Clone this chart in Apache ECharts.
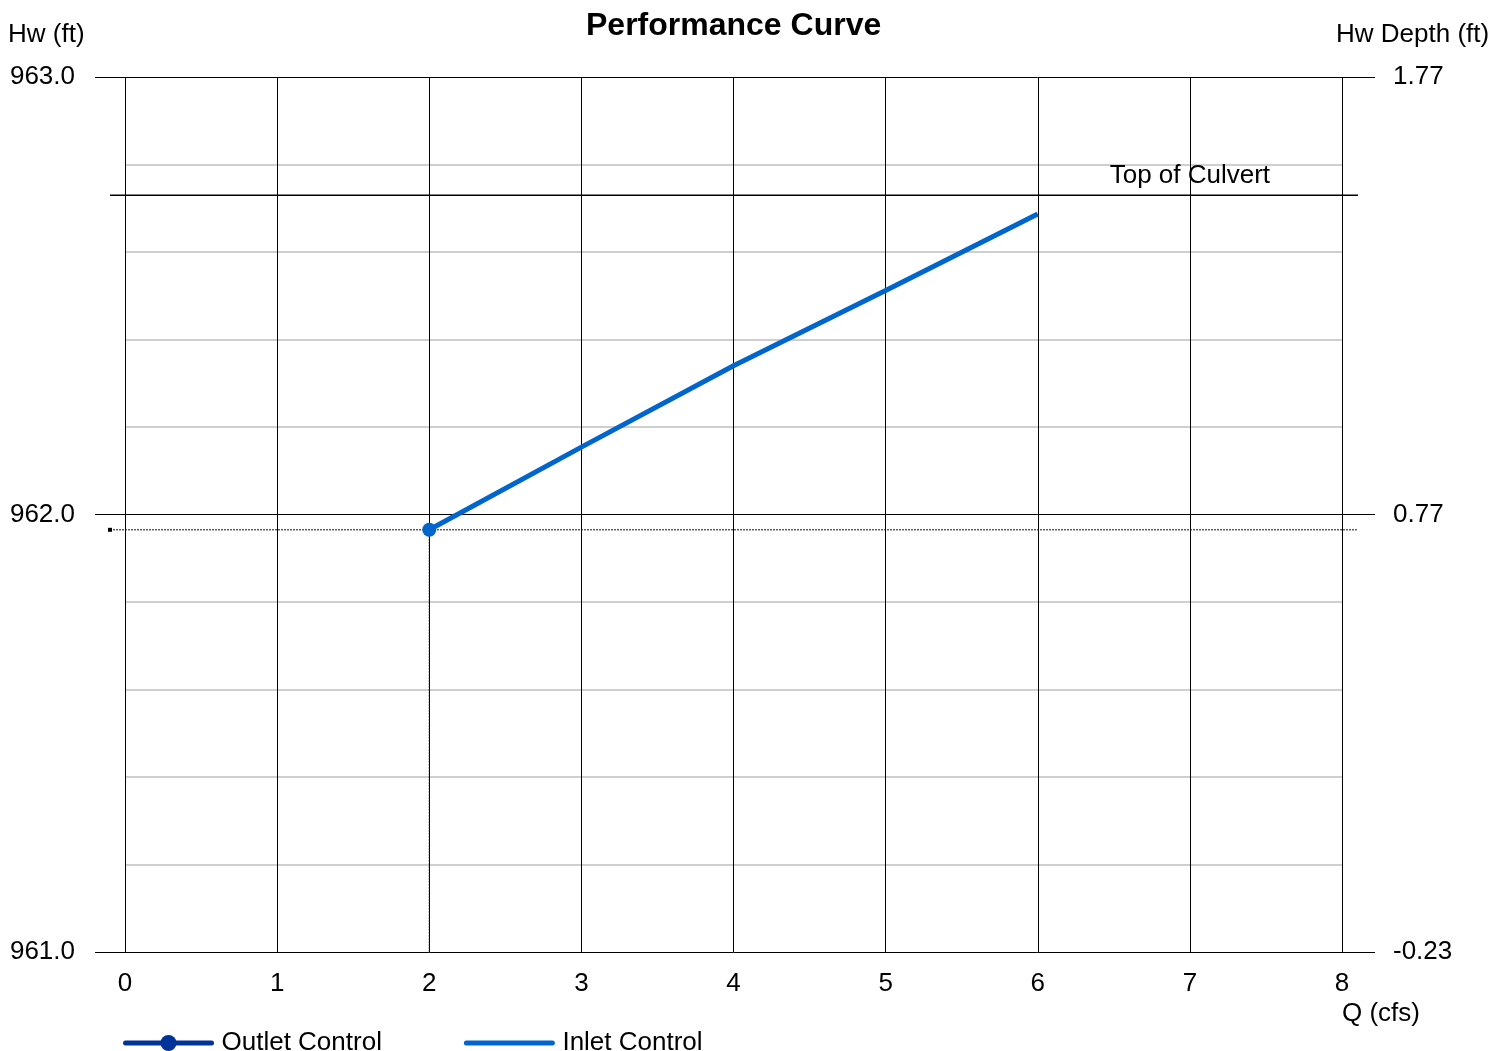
<!DOCTYPE html>
<html>
<head>
<meta charset="utf-8">
<script src="https://cdn.jsdelivr.net/npm/echarts@6/dist/echarts.min.js"></script>
<style>
  html, body { margin: 0; padding: 0; background: #ffffff; }
  #chart { width: 1493px; height: 1051px; }
</style>
</head>
<body>
<div id="chart"></div>
<script>
// Culvert performance curve: headwater elevation versus discharge
const qTicks = [0, 1, 2, 3, 4, 5, 6, 7, 8];
const inletQ = [2, 3, 4, 5, 6];
const inletHw = [961.965, 962.154, 962.34, 962.512, 962.687];
const outletQ = [2];
const outletHw = [961.965];
const designQ = 2;
const designHw = 961.965;
const topOfCulvert = 962.73;
const inletInvert = 961.23;
const hwMin = 961.0;
const hwMax = 963.0;

const FONT = 'Arial, "Liberation Sans", sans-serif';
const INK = '#000000';
const INLET_BLUE = '#0066cc';
const OUTLET_BLUE = '#003399';

const chart = echarts.init(document.getElementById('chart'), null, { renderer: 'canvas' });

chart.setOption({
  animation: false,
  backgroundColor: '#ffffff',
  textStyle: { fontFamily: FONT },
  title: [
    { text: 'Performance Curve', left: 586, top: 10, padding: 0,
      textStyle: { fontFamily: FONT, fontSize: 32, fontWeight: 'bold', color: INK } },
    { text: 'Hw (ft)', left: 8, top: 22, padding: 0,
      textStyle: { fontFamily: FONT, fontSize: 26, fontWeight: 'normal', color: INK } },
    { text: 'Hw Depth (ft)', left: 1336, top: 22, padding: 0,
      textStyle: { fontFamily: FONT, fontSize: 26, fontWeight: 'normal', color: INK } },
    { text: 'Q (cfs)', left: 1342, top: 1001, padding: 0,
      textStyle: { fontFamily: FONT, fontSize: 26, fontWeight: 'normal', color: INK } }
  ],
  legend: {
    left: 123, top: 1030, padding: 0,
    itemWidth: 86, itemHeight: 20, itemGap: 82,
    data: [
      { name: 'Outlet Control' },
      { name: 'Inlet Control', itemStyle: { opacity: 0 } }
    ],
    lineStyle: { width: 5, cap: 'round' },
    textStyle: { fontFamily: FONT, fontSize: 26, color: INK, padding: [0, 0, 0, 5] }
  },
  grid: [
    { left: 125, right: 151, top: 77, bottom: 99 },
    { left: 110, right: 135, top: 77, bottom: 99 }
  ],
  xAxis: [
    {
      type: 'value', gridIndex: 0, min: 0, max: 8, interval: 1,
      axisLine: { show: false }, axisTick: { show: false },
      axisLabel: { fontFamily: FONT, fontSize: 26, color: INK, margin: 19,
        formatter: v => qTicks.includes(v) ? String(v) : '' },
      splitLine: { show: true, lineStyle: { color: INK, width: 1 } }
    },
    { type: 'value', gridIndex: 1, min: 0, max: 1, show: false }
  ],
  yAxis: [
    {
      type: 'value', gridIndex: 0, position: 'left', min: hwMin, max: hwMax, interval: 1,
      axisLine: { show: false },
      axisTick: { show: true, length: 30, lineStyle: { color: INK, width: 1 } },
      axisLabel: { fontFamily: FONT, fontSize: 26, color: INK, margin: 50,
        formatter: v => v.toFixed(1) },
      splitLine: { show: true, lineStyle: { color: INK, width: 1 } },
      minorTick: { show: false, splitNumber: 5 },
      minorSplitLine: { show: true, lineStyle: { color: '#cfcfcf', width: 2 } }
    },
    {
      type: 'value', gridIndex: 0, position: 'right', min: hwMin, max: hwMax, interval: 1,
      axisLine: { show: false },
      axisTick: { show: true, length: 33, lineStyle: { color: INK, width: 1 } },
      axisLabel: { fontFamily: FONT, fontSize: 26, color: INK, margin: 51,
        formatter: v => (v - inletInvert).toFixed(2) },
      splitLine: { show: false }
    },
    { type: 'value', gridIndex: 1, min: hwMin, max: hwMax, show: false }
  ],
  series: [
    {
      name: 'Top of Culvert', type: 'line', xAxisIndex: 1, yAxisIndex: 2,
      data: [[0, topOfCulvert], [1, topOfCulvert]],
      symbol: 'none', silent: true,
      lineStyle: { color: INK, width: 1.5 }, z: 3
    },
    {
      name: 'Design Point', type: 'line', xAxisIndex: 1, yAxisIndex: 2,
      data: [
        { value: [0, designHw], symbol: 'rect', symbolSize: 4 },
        { value: [1, designHw], symbol: 'none' }
      ],
      silent: true, itemStyle: { color: INK },
      lineStyle: { color: '#111111', width: 1, type: [2, 1] }, z: 3
    },
    {
      name: 'Design Drop', type: 'line', xAxisIndex: 0, yAxisIndex: 0,
      data: [[designQ, designHw], [designQ, hwMin]],
      symbol: 'none', silent: true,
      lineStyle: { color: '#111111', width: 1, type: [2, 1] }, z: 3
    },
    {
      name: 'Culvert Label', type: 'scatter', xAxisIndex: 0, yAxisIndex: 0,
      data: [[7, topOfCulvert]], symbol: 'circle', symbolSize: 0, silent: true,
      itemStyle: { color: INK },
      label: { show: true, position: 'top', distance: 6, formatter: 'Top of Culvert',
        fontFamily: FONT, fontSize: 26, color: INK, opacity: 1 }, z: 4
    },
    {
      name: 'Inlet Control', type: 'line', xAxisIndex: 0, yAxisIndex: 0,
      data: inletQ.map((q, i) => [q, inletHw[i]]), symbol: 'none',
      itemStyle: { color: INLET_BLUE },
      lineStyle: { color: INLET_BLUE, width: 5 }, z: 5
    },
    {
      name: 'Outlet Control', type: 'line', xAxisIndex: 0, yAxisIndex: 0,
      data: outletQ.map((q, i) => ({ value: [q, outletHw[i]], itemStyle: { color: INLET_BLUE } })),
      symbol: 'circle', symbolSize: 14, showSymbol: true,
      itemStyle: { color: OUTLET_BLUE },
      lineStyle: { color: OUTLET_BLUE, width: 5 }, z: 6
    }
  ]
});
</script>
</body>
</html>
